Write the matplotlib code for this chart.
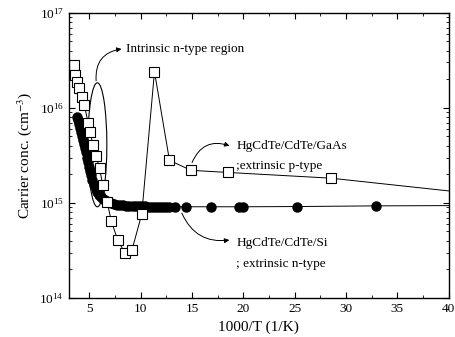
import matplotlib
matplotlib.use("Agg")
import matplotlib.pyplot as plt
from matplotlib.patches import Ellipse

plt.rcParams['font.family'] = ['Liberation Serif', 'DejaVu Serif']
plt.rcParams['mathtext.fontset'] = 'stix'

# HgCdTe/CdTe/GaAs (open squares)
gaas_x = [3.54, 3.64, 3.8, 4.03, 4.29, 4.51, 4.87, 5.1, 5.32, 5.65, 6.0, 6.29,
          6.72, 7.14, 7.75, 8.43, 9.15, 10.1, 11.34, 12.8, 14.9, 18.5, 28.5, 44.0]
gaas_n = [2.8e16, 2.2e16, 1.85e16, 1.6e16, 1.3e16, 1.07e16, 7.0e15, 5.6e15, 4.1e15,
          3.1e15, 2.3e15, 1.55e15, 1.03e15, 6.4e14, 4.1e14, 3.0e14, 3.2e14, 7.6e14,
          2.4e16, 2.8e15, 2.2e15, 2.09e15, 1.82e15, 1.2e15]

# HgCdTe/CdTe/Si (solid circles)
si_x = [3.8, 3.9, 4.0, 4.1, 4.2, 4.3, 4.4, 4.5, 4.6, 4.7, 4.8, 4.9, 5.0, 5.1, 5.2,
        5.3, 5.45, 5.6, 5.75, 5.9, 6.1, 6.3, 6.5, 6.7, 6.9, 7.1, 7.4, 7.7, 8.0,
        8.3, 8.6, 8.9, 9.2, 9.5, 9.8, 10.1, 10.4, 10.7, 11.0, 11.3, 11.6, 11.9,
        12.2, 12.5, 12.8, 13.3, 14.4, 16.8, 19.6, 20.0, 25.2, 32.9, 45.0]
si_n = [8.0e15, 7.4e15, 6.8e15, 6.2e15, 5.6e15, 5.1e15, 4.6e15, 4.2e15, 3.8e15,
        3.4e15, 3.0e15, 2.7e15, 2.4e15, 2.15e15, 1.95e15, 1.75e15, 1.55e15, 1.4e15,
        1.3e15, 1.22e15, 1.15e15, 1.1e15, 1.06e15, 1.03e15, 1.01e15, 9.9e14, 9.7e14,
        9.6e14, 9.5e14, 9.4e14, 9.35e14, 9.3e14, 9.3e14, 9.25e14, 9.2e14, 9.2e14,
        9.2e14, 9.15e14, 9.15e14, 9.1e14, 9.1e14, 9.1e14, 9.1e14, 9.1e14, 9.1e14,
        9.1e14, 9.1e14, 9.1e14, 9.1e14, 9.1e14, 9.15e14, 9.3e14, 9.4e14]

fig = plt.figure(figsize=(4.56, 3.37), dpi=100)
ax = fig.add_axes([0.151, 0.116, 0.833, 0.846])

ax.plot(si_x, si_n, color='black', lw=0.7, marker='o', ms=6.5,
        mfc='black', mec='black')
ax.plot(gaas_x, gaas_n, color='black', lw=0.7, marker='s', ms=7,
        mfc='white', mec='black', mew=0.8)

ax.set_yscale('log')
ax.set_xlim(3, 40)
ax.set_ylim(1e14, 1e17)
ax.set_xticks([5, 10, 15, 20, 25, 30, 35, 40])
ax.set_xticks([7.5, 12.5, 17.5, 22.5, 27.5, 32.5, 37.5], minor=True)
ax.tick_params(which='both', direction='in', top=True, right=True, labelsize=9.5)
ax.tick_params(which='major', length=4)
ax.tick_params(which='minor', length=2)
for s in ax.spines.values():
    s.set_linewidth(1.0)

ax.set_xlabel('1000/T (1/K)', fontsize=11)
ax.set_ylabel('Carrier conc. (cm$^{-3}$)', fontsize=11)

# ellipse around the intrinsic region
ax.add_patch(Ellipse((0.075, 0.537), 0.05, 0.435, transform=ax.transAxes,
                     fill=False, ec='black', lw=0.8))

arrow = dict(arrowstyle='-|>', color='black', lw=0.7, mutation_scale=7)
ax.annotate('', xy=(8.4, 4.2e16), xytext=(5.68, 1.8e16),
            arrowprops=dict(arrow, connectionstyle='arc3,rad=-0.5'))
ax.text(8.6, 4.2e16, 'Intrinsic n-type region', fontsize=9.5, va='center', ha='left')

ax.annotate('', xy=(18.9, 3.9e15), xytext=(14.9, 2.5e15),
            arrowprops=dict(arrow, connectionstyle='arc3,rad=-0.5'))
ax.text(19.3, 4.0e15, 'HgCdTe/CdTe/GaAs', fontsize=9.5, va='center')
ax.text(19.3, 2.45e15, ';extrinsic p-type', fontsize=9.5, va='center')

ax.annotate('', xy=(18.9, 4.1e14), xytext=(13.9, 8.3e14),
            arrowprops=dict(arrow, connectionstyle='arc3,rad=0.4'))
ax.text(19.3, 3.8e14, 'HgCdTe/CdTe/Si', fontsize=9.5, va='center')
ax.text(19.3, 2.3e14, '; extrinsic n-type', fontsize=9.5, va='center')

fig.savefig('out.png', dpi=100)
